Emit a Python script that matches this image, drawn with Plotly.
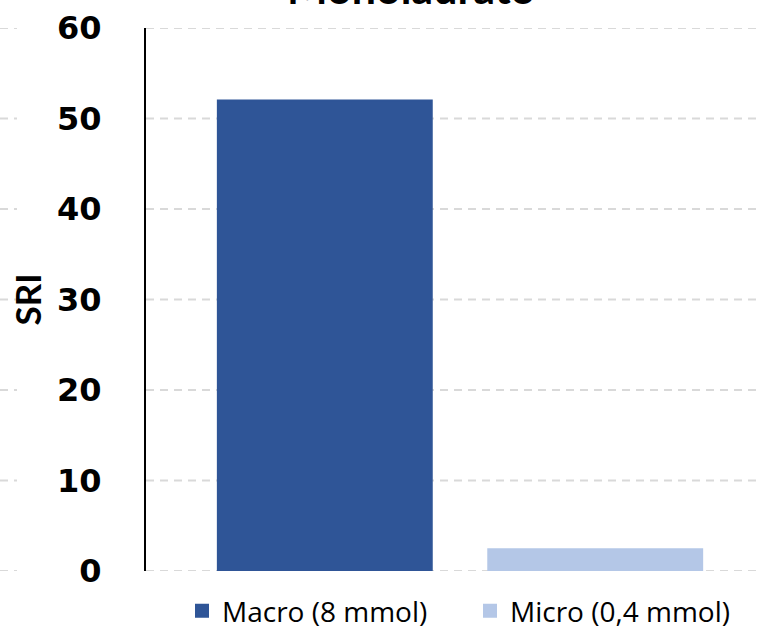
import plotly.graph_objects as go

categories = ["SRI"]
series_names = ["Macro (8 mmol)", "Micro (0,4 mmol)"]
macro_values = [52.0]
micro_values = [2.4]
tick_values = [0, 10, 20, 30, 40, 50, 60]
title_text = "Monolaurato"
y_title = "SRI"

colors = ["#2F5597", "#B4C7E7"]

fig = go.Figure()
for name, vals, col in zip(series_names, [macro_values, micro_values], colors):
    fig.add_trace(go.Bar(x=categories, y=vals, name=name, marker=dict(color=col, line=dict(width=2, color=col))))

W, H = 758, 627
L, R, T, B = 146, 0, 28, 56
pw = W - L - R
ph = H - T - B

grid = dict(color="#d9d9d9", width=2, dash="8px,6px")
shapes = []
for v in tick_values:
    shapes.append(dict(type="line", xref="paper", yref="y", x0=-L / pw, x1=-(L - 17) / pw, y0=v, y1=v,
                       line=grid, layer="below"))
    shapes.append(dict(type="line", xref="paper", yref="y", x0=0, x1=1, y0=v, y1=v,
                       line=grid, layer="below"))

fig.update_layout(
    width=W, height=H,
    margin=dict(l=L, r=R, t=T, b=B, autoexpand=False),
    paper_bgcolor="white", plot_bgcolor="white",
    barmode="group", bargap=0.2, bargroupgap=0.209,
    showlegend=True,
    legend=dict(orientation="h", x=(182 - L) / pw, xanchor="left", y=-40 / ph, yanchor="middle",
                font=dict(family="Open Sans", size=28, color="#000000"), itemwidth=30,
                entrywidth=243, entrywidthmode="pixels"),
    shapes=shapes,
    annotations=[dict(text="<b>" + title_text + "</b>", xref="paper", yref="paper", x=0.433, y=1 + 13 / ph,
                      xanchor="center", yanchor="bottom", showarrow=False,
                      font=dict(family="Lato", size=43, color="#000000"))],
)
fig.update_xaxes(range=[-0.4645, 0.4408], showticklabels=False, showgrid=False, zeroline=False, showline=False,
                 automargin=False)
fig.update_yaxes(range=[0, 60], tickvals=tick_values, showgrid=False, automargin=False,
                 zeroline=False, showline=True, linecolor="#000000", linewidth=2,
                 ticks="outside", ticklen=36, tickcolor="rgba(0,0,0,0)",
                 tickfont=dict(family="DejaVu Sans", size=32, color="#000000", weight="bold"),
                 title=dict(text="<b>" + y_title + "</b>", font=dict(family="Lato", size=35, color="#000000"),
                            standoff=5))

fig.write_html(
    "out.html",
    config={"displayModeBar": False},
    post_script="document.body.style.margin='0';document.body.style.overflow='hidden';",
)
